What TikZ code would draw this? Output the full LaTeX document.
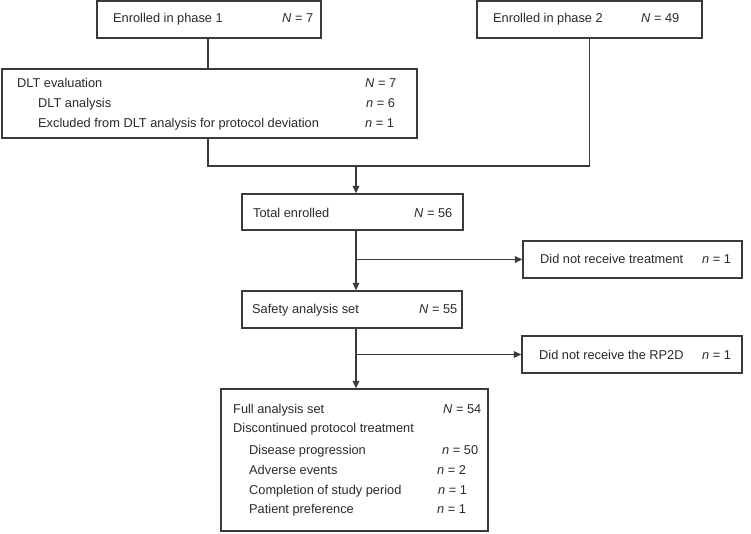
\documentclass[tikz,border=0pt]{standalone}
\usepackage{fontspec}
\setmainfont{Liberation Sans}
\usetikzlibrary{arrows.meta}
\definecolor{ln}{HTML}{3A3A3A}
\definecolor{tx}{HTML}{2A2A2A}
\tikzset{
  box/.style={draw=ln, line width=1.3pt, inner sep=0pt, fill=white},
  lab/.style={anchor=base west, inner sep=0pt, text=tx, font=\fontsize{12.8}{14}\selectfont},
  conn/.style={draw=ln, line width=1.3pt},
  arr/.style={conn, -{Triangle[length=7.5pt,width=6.5pt]}}
}
\begin{document}
\begin{tikzpicture}[x=1pt,y=-1pt]
\useasboundingbox (0,0) rectangle (751,533);
% boxes
\node[box, minimum width=224pt, minimum height=37pt] (p1) at (209,19.5) {};
\node[box, minimum width=225pt, minimum height=37pt] (p2) at (589.5,19.5) {};
\node[box, minimum width=415pt, minimum height=69pt] (dlt) at (209.5,103.5) {};
\node[box, minimum width=221pt, minimum height=36pt] (tot) at (352.5,212) {};
\node[box, minimum width=219pt, minimum height=37pt] (tr) at (632.5,259.5) {};
\node[box, minimum width=220pt, minimum height=37pt] (saf) at (352,309.5) {};
\node[box, minimum width=220pt, minimum height=37pt] (rp) at (632,354.5) {};
\node[box, minimum width=267pt, minimum height=142pt] (fas) at (354.5,460) {};
% labels
\node[lab] (a1) at (113,22) {Enrolled in phase 1};
\node[lab] (a2) at (282,22) {\textit{N} = 7};
\node[lab] (b1) at (493,22) {Enrolled in phase 2};
\node[lab] (b2) at (641,22) {\textit{N} = 49};
\node[lab] (c1) at (17,87) {DLT evaluation};
\node[lab] (c2) at (365,87) {\textit{N} = 7};
\node[lab] (c3) at (38,107) {DLT analysis};
\node[lab] (c4) at (366,107) {\textit{n} = 6};
\node[lab] (c5) at (38,127) {Excluded from DLT analysis for protocol deviation};
\node[lab] (c6) at (365,127) {\textit{n} = 1};
\node[lab] (d1) at (253,217) {Total enrolled};
\node[lab] (d2) at (414,217) {\textit{N} = 56};
\node[lab] (e1) at (540,263) {Did not receive treatment};
\node[lab] (e2) at (702,263) {\textit{n} = 1};
\node[lab] (f1) at (252,313) {Safety analysis set};
\node[lab] (f2) at (419,313) {\textit{N} = 55};
\node[lab] (g1) at (539,359) {Did not receive the RP2D};
\node[lab] (g2) at (702,359) {\textit{n} = 1};
\node[lab] (h1) at (233,413) {Full analysis set};
\node[lab] (h2) at (443,413) {\textit{N} = 54};
\node[lab] (h3) at (233,432) {Discontinued protocol treatment};
\node[lab] (h4) at (249,454) {Disease progression};
\node[lab] (h5) at (442,454) {\textit{n} = 50};
\node[lab] (h6) at (249,474) {Adverse events};
\node[lab] (h7) at (437,474) {\textit{n} = 2};
\node[lab] (h8) at (249,494) {Completion of study period};
\node[lab] (h9) at (438,494) {\textit{n} = 1};
\node[lab] (h10) at (249,513) {Patient preference};
\node[lab] (h11) at (437,513) {\textit{n} = 1};
% connectors
\coordinate (m) at (356,166);
\draw[conn] (p1.south -| 208,0) -- (dlt.north -| 208,0);
\draw[conn] (dlt.south -| 208,0) |- (m) -- (m -| p2.south) -- (p2.south);
\draw[arr] (m) -- (tot.north -| m);
\draw[arr] (tot.south -| m) -- (saf.north -| m);
\draw[arr] (m |- tr.west) -- (tr.west);
\draw[arr] (saf.south -| m) -- (fas.north -| m);
\draw[arr] (m |- rp.west) -- (rp.west);
\end{tikzpicture}
\end{document}
